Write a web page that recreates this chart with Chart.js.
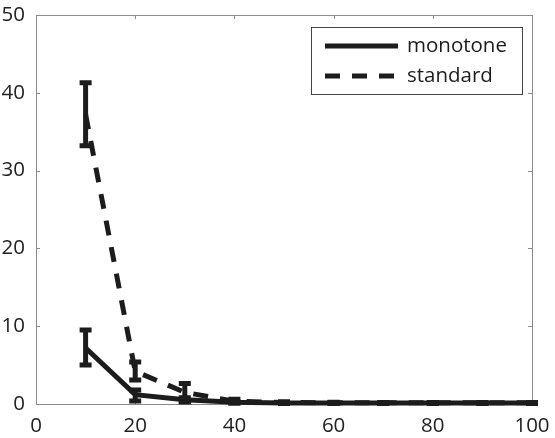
<!DOCTYPE html>
<html>
<head>
<meta charset="utf-8">
<script src="https://cdn.jsdelivr.net/npm/chart.js@4/dist/chart.umd.min.js"></script>
<style>
  html, body { margin: 0; padding: 0; background: #fff; }
  #wrap { width: 555px; height: 438px; }
</style>
</head>
<body>
<div id="wrap"><canvas id="c" width="555" height="438"></canvas></div>
<script>
// Sample sizes on the x axis
const xValues = [10, 20, 30, 40, 50, 60, 70, 80, 90, 100];

// "monotone" series: mean with lower / upper error bounds
const monotoneMean = [7.2, 1.2, 0.55, 0.22, 0.14, 0.12, 0.12, 0.12, 0.12, 0.12];
const monotoneLow  = [5.0, 0.4, 0.3, 0.12, 0.08, 0.08, 0.08, 0.08, 0.08, 0.08];
const monotoneHigh = [9.5, 1.8, 0.8, 0.32, 0.2, 0.16, 0.16, 0.16, 0.16, 0.16];

// "standard" series: mean with lower / upper error bounds
const standardMean = [37.2, 4.2, 1.5, 0.35, 0.2, 0.16, 0.15, 0.15, 0.15, 0.15];
const standardLow  = [33.2, 3.1, 0.3, 0.12, 0.1, 0.1, 0.1, 0.1, 0.1, 0.1];
const standardHigh = [41.3, 5.4, 2.65, 0.6, 0.3, 0.22, 0.2, 0.2, 0.2, 0.2];

// Axis tick values
const xTicks = [0, 20, 40, 60, 80, 100];
const yTicks = [0, 10, 20, 30, 40, 50];

const seriesNames = ['monotone', 'standard'];

const FONT = '"Open Sans", "Noto Sans", sans-serif';
const INK = '#1c1c1c';
const FRAME = '#8a8a8a';
const DASH = [15, 12];

function points(ys) {
  return xValues.map((x, i) => ({ x: x, y: ys[i] }));
}

// Axis box with inward-pointing ticks on all four sides
const framePlugin = {
  id: 'frame',
  beforeDatasetsDraw(chart) {
    const { ctx, chartArea: a, scales } = chart;
    const len = 4;
    ctx.save();
    ctx.strokeStyle = FRAME;
    ctx.lineWidth = 1;
    ctx.beginPath();
    ctx.rect(Math.round(a.left) + 0.5, Math.round(a.top) + 0.5,
             Math.round(a.right - a.left), Math.round(a.bottom - a.top));
    xTicks.forEach(v => {
      const px = Math.round(scales.x.getPixelForValue(v)) + 0.5;
      ctx.moveTo(px, a.bottom); ctx.lineTo(px, a.bottom - len);
      ctx.moveTo(px, a.top); ctx.lineTo(px, a.top + len);
    });
    yTicks.forEach(v => {
      const py = Math.round(scales.y.getPixelForValue(v)) + 0.5;
      ctx.moveTo(a.left, py); ctx.lineTo(a.left + len, py);
      ctx.moveTo(a.right, py); ctx.lineTo(a.right - len, py);
    });
    ctx.stroke();
    ctx.restore();
  }
};

// Vertical error bars with caps
const errorBarPlugin = {
  id: 'errorBars',
  afterDatasetsDraw(chart) {
    const { ctx, scales } = chart;
    const capHalf = 6;
    ctx.save();
    ctx.strokeStyle = INK;
    ctx.lineWidth = 5;
    ctx.lineCap = 'butt';
    chart.data.datasets.forEach(ds => {
      const lo = ds.errLow, hi = ds.errHigh;
      xValues.forEach((x, i) => {
        const px = scales.x.getPixelForValue(x);
        const pLo = scales.y.getPixelForValue(lo[i]);
        const pHi = scales.y.getPixelForValue(hi[i]);
        ctx.beginPath();
        ctx.moveTo(px, pLo + 2.5); ctx.lineTo(px, pHi - 2.5);
        ctx.moveTo(px - capHalf, pLo); ctx.lineTo(px + capHalf, pLo);
        ctx.moveTo(px - capHalf, pHi); ctx.lineTo(px + capHalf, pHi);
        ctx.stroke();
      });
    });
    ctx.restore();
  }
};

// Boxed legend in the upper-right corner of the plot area
const legendPlugin = {
  id: 'boxLegend',
  afterDraw(chart) {
    const { ctx, chartArea: a } = chart;
    const w = 211, h = 67;
    const x0 = Math.round(a.right - 10 - w), y0 = Math.round(a.top + 12);
    ctx.save();
    ctx.fillStyle = '#fff';
    ctx.fillRect(x0, y0, w, h);
    ctx.strokeStyle = '#444';
    ctx.lineWidth = 1;
    ctx.strokeRect(x0 + 0.5, y0 + 0.5, w, h);
    const rows = [y0 + 19, y0 + 49];
    chart.data.datasets.forEach((ds, i) => {
      const y = rows[i];
      ctx.beginPath();
      ctx.strokeStyle = INK;
      ctx.lineWidth = 5;
      ctx.lineCap = 'butt';
      ctx.setLineDash(ds.borderDash || []);
      ctx.moveTo(x0 + 14, y);
      ctx.lineTo(x0 + 87, y);
      ctx.stroke();
      ctx.setLineDash([]);
      ctx.fillStyle = INK;
      ctx.font = '20.5px ' + FONT;
      ctx.textAlign = 'left';
      ctx.textBaseline = 'middle';
      ctx.fillText(ds.label, x0 + 96, y);
    });
    ctx.restore();
  }
};

new Chart(document.getElementById('c'), {
  type: 'line',
  data: {
    datasets: [
      {
        label: seriesNames[0],
        data: points(monotoneMean),
        errLow: monotoneLow,
        errHigh: monotoneHigh,
        borderColor: INK,
        borderWidth: 5,
        borderJoinStyle: 'miter',
        pointRadius: 0,
        tension: 0,
        clip: false
      },
      {
        label: seriesNames[1],
        data: points(standardMean),
        errLow: standardLow,
        errHigh: standardHigh,
        borderColor: INK,
        borderWidth: 5,
        borderDash: DASH,
        borderCapStyle: 'butt',
        borderJoinStyle: 'miter',
        pointRadius: 0,
        tension: 0,
        clip: false
      }
    ]
  },
  options: {
    responsive: false,
    animation: false,
    devicePixelRatio: 1,
    layout: { padding: { top: 15, right: 23, left: 0, bottom: 0 } },
    plugins: { legend: { display: false }, tooltip: { enabled: false } },
    scales: {
      x: {
        type: 'linear',
        min: 0, max: 100,
        afterFit(s) { s.height = 34; s.paddingLeft = 0; s.paddingRight = 0; },
        afterBuildTicks(s) { s.ticks = xTicks.map(v => ({ value: v })); },
        grid: { display: false, drawTicks: false },
        border: { display: false },
        ticks: { color: '#222', padding: 10, maxRotation: 0, font: { family: FONT, size: 20.5 } }
      },
      y: {
        type: 'linear',
        min: 0, max: 50,
        afterFit(s) { s.width = 36; s.paddingTop = 0; s.paddingBottom = 0; },
        afterBuildTicks(s) { s.ticks = yTicks.map(v => ({ value: v })); },
        grid: { display: false, drawTicks: false },
        border: { display: false },
        ticks: { color: '#222', padding: 11, font: { family: FONT, size: 20.5 } }
      }
    }
  },
  plugins: [framePlugin, errorBarPlugin, legendPlugin]
});
</script>
</body>
</html>
